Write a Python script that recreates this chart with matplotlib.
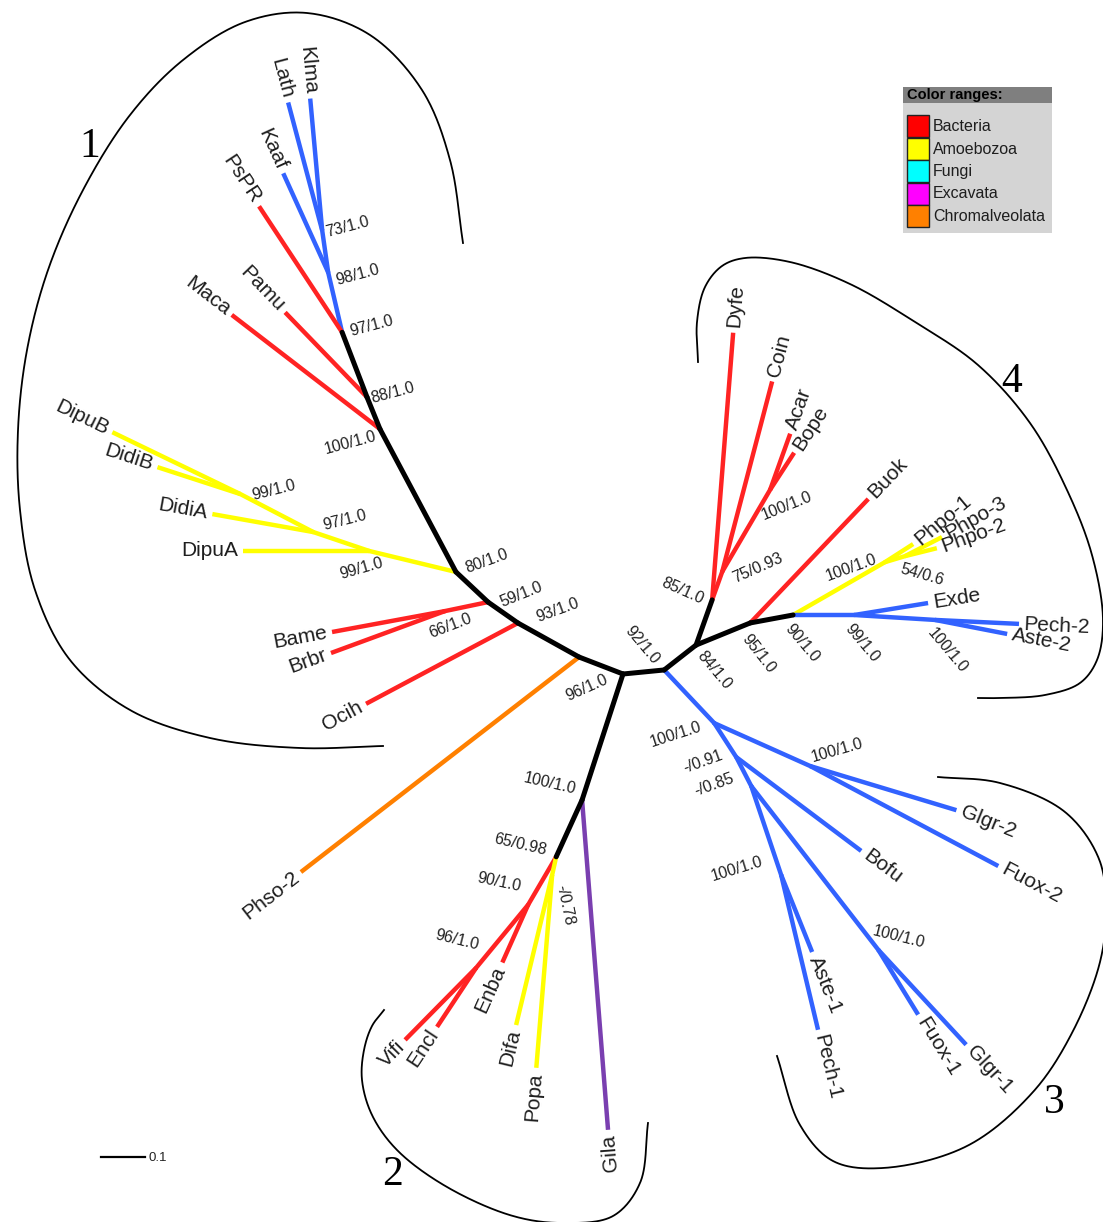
import numpy as np
import matplotlib
matplotlib.use("Agg")
import matplotlib.pyplot as plt
from matplotlib.patches import Rectangle

plt.rcParams['font.family'] = ['Liberation Sans', 'DejaVu Sans']

# ---------------------------------------------------------------- data
# unrooted tree: each edge parent -> child with its branch length (subst./site)
edge_parent = ['A', 'A', 'NO', 'N93', 'N59', 'N80', 'N100', 'N88', 'N97', 'N98',
               'N73', 'N73', 'N98', 'N97', 'N88', 'N100', 'N80', 'Y1', 'Y1', 'Y2',
               'Y2', 'Y3', 'Y3', 'N59', 'N66', 'N66', 'N93', 'NO', 'A', 'G100',
               'G100', 'N65', 'R90', 'R90', 'R96', 'R96', 'N65', 'Y78', 'Y78', 'B',
               'N84', 'N85', 'N85', 'N75', 'N75', 'NAB', 'NAB', 'N84', 'N95', 'N95',
               'N90', 'YP1', 'YP1', 'YP2', 'YP2', 'N90', 'N99', 'N99', 'N100b', 'N100b',
               'B', 'C3', 'P2', 'P2', 'C3', 'N91', 'N91', 'N85b', 'AP', 'AP',
               'N85b', 'FG', 'FG']
edge_child = ['B', 'NO', 'N93', 'N59', 'N80', 'N100', 'N88', 'N97', 'N98', 'N73',
              'Lath', 'Klma', 'Kaaf', 'PsPR', 'Pamu', 'Maca', 'Y1', 'DipuA', 'Y2', 'DidiA',
              'Y3', 'DidiB', 'DipuB', 'N66', 'Bame', 'Brbr', 'Ocih', 'Phso-2', 'G100', 'Gila',
              'N65', 'R90', 'Enba', 'R96', 'Vifi', 'Encl', 'Y78', 'Difa', 'Popa', 'N84',
              'N85', 'Dyfe', 'N75', 'Coin', 'NAB', 'Acar', 'Bope', 'N95', 'Buok', 'N90',
              'YP1', 'Phpo-1', 'YP2', 'Phpo-3', 'Phpo-2', 'N99', 'Exde', 'N100b', 'Pech-2', 'Aste-2',
              'C3', 'P2', 'Glgr-2', 'Fuox-2', 'N91', 'Bofu', 'N85b', 'AP', 'Aste-1', 'Pech-1',
              'FG', 'Fuox-1', 'Glgr-1']
branch_length = [.094, .107, .159, .083, .100, .368, .078, .158, .140, .096,
                 .301, .301, .247, .343, .268, .425, .203, .286, .134, .233,
                 .187, .198, .323, .100, .261, .276, .391, .799, .301, .752,
                 .142, .126, .144, .186, .230, .161, .042, .351, .440, .092,
                 .109, .609, .068, .447, .216, .135, .100, .133, .389, .099,
                 .241, .076, .047, .095, .075, .139, .170, .184, .191, .167,
                 .166, .239, .347, .484, .092, .355, .074, .213, .189, .362,
                 .471, .173, .294]
branch_group = ['bb', 'bb', 'bb', 'bb', 'bb', 'bb', 'bb', 'bb', 'fun', 'fun',
                'fun', 'fun', 'fun', 'bac', 'bac', 'bac', 'amo', 'amo', 'amo', 'amo',
                'amo', 'amo', 'amo', 'bac', 'bac', 'bac', 'bac', 'chr', 'bb', 'exc',
                'bb', 'bac', 'bac', 'bac', 'bac', 'bac', 'amo', 'amo', 'amo', 'bb',
                'bb', 'bac', 'bac', 'bac', 'bac', 'bac', 'bac', 'bb', 'bac', 'bb',
                'amo', 'amo', 'amo', 'amo', 'amo', 'fun', 'fun', 'fun', 'fun', 'fun',
                'fun', 'fun', 'fun', 'fun', 'fun', 'fun', 'fun', 'fun', 'fun', 'fun',
                'fun', 'fun', 'fun']

# bootstrap / posterior support
support_node = ['N73', 'N98', 'N97', 'N88', 'N100', 'N80', 'N59', 'N93', 'N66', 'Y1',
                'Y2', 'Y3', 'A', 'A', 'N84', 'N85', 'N75', 'NAB', 'N95', 'N90',
                'N99', 'N100b', 'YP1', 'YP2', 'C3', 'P2', 'N91', 'N85b', 'AP', 'FG',
                'G100', 'N65', 'R90', 'R96', 'Y78']
support_text = ['73/1.0', '98/1.0', '97/1.0', '88/1.0', '100/1.0', '80/1.0', '59/1.0', '93/1.0', '66/1.0', '99/1.0',
                '97/1.0', '99/1.0', '92/1.0', '96/1.0', '84/1.0', '85/1.0', '75/0.93', '100/1.0', '95/1.0', '90/1.0',
                '99/1.0', '100/1.0', '100/1.0', '54/0.6', '100/1.0', '100/1.0', '-/0.91', '-/0.85', '100/1.0', '100/1.0',
                '100/1.0', '65/0.98', '90/1.0', '96/1.0', '-/0.78']

legend_labels = ['Bacteria', 'Amoebozoa', 'Fungi', 'Excavata', 'Chromalveolata']
legend_colors = ['#ff0000', '#ffff00', '#00ffff', '#ff00ff', '#ff8000']
clade_labels = ['1', '2', '3', '4']
scale_value = 0.1

# ---------------------------------------------------------------- layout / style
group_color = {'bb': '#000000', 'bac': '#ff2323', 'amo': '#ffff00', 'fun': '#3262ff',
               'chr': '#ff8000', 'exc': '#7a3fb0'}
branch_angle = [5.6, 158.9, 150.9, 145.0, 136.8, 118.0, 112.1, 111.0, 103.1, 98.1,
                104.9, 95.2, 114.4, 123.4, 134.0, 142.4, 166.4, 180.0, 161.3, 169.9,
                152.5, 162.0, 154.2, 191.8, 190.5, 200.2, 208.0, 217.7, 252.0, -85.5,
                245.5, 239.7, 245.9, 230.5, 225.4, 236.5, 257.5, 256.5, 265.3, 38.0,
                70.4, 85.5, 70.3, 75.3, 59.7, 70.3, 57.0, 22.2, 46.4, 10.5,
                29.9, 32.7, 16.7, 27.2, 14.0, 0.0, 9.2, -3.5, -2.7, -11.0,
                -46.7, -24.1, -16.8, -28.0, -57.1, -36.9, -62.6, -71.4, -68.1, -76.6,
                -52.2, -58.4, -47.2]
label_rot_override = {'Phpo-1': 40, 'Phpo-3': 30, 'Phpo-2': 20, 'Glgr-2': -22}
# support label offsets from node (pixels, y up) and rotation
sup_dx = [25, 29, 29, 26, -30, 31, 33, 40, 5, -8, 31, 33, 19, -36, 18, -30, 35, 17, 8, 9,
          8, 12, -34, 17, -39, 27, -33, -37, -44, 20, -32, -36, -29, -19, 13]
sup_dy = [4, -3, 6, 4, -14, 11, 8, 13, -15, -18, 12, 4, 29, -14, -25, 9, 4, -16, -31, -28,
          -28, -31, -6, -19, -11, 16, -5, 1, 6, 13, 16, 12, 22, 28, -30]
sup_rot = [15, 15, 15, 15, 15, 20, 22, 20, 21, 16, 14, 14, -50, 24, -50, -24, 24, 22, -52, -50,
           -50, -50, 20, -16, 18, 16, 20, 20, 17, -14, -13, -13, -12, -14, -78]

W, H = 1103, 1222
PXU = 440.0            # pixels per unit branch length
OX, OY = 623, 674      # pixel position of the central node


def P(x, y):
    return ((x - OX) / PXU, (OY - y) / PXU)


fig = plt.figure(figsize=(W / 100, H / 100), dpi=100)
ax = fig.add_axes([0, 0, 1, 1])
ax.set_xlim(-OX / PXU, (W - OX) / PXU)
ax.set_ylim((OY - H) / PXU, OY / PXU)
ax.set_aspect('equal')
ax.axis('off')

# positions from branch lengths and angles
pos = {'A': np.array([0.0, 0.0])}
ang = {}
for p, c, L, a in zip(edge_parent, edge_child, branch_length, branch_angle):
    r = np.deg2rad(a)
    pos[c] = pos[p] + L * np.array([np.cos(r), np.sin(r)])
    ang[c] = a
internal = set(edge_parent)

# draw branches (coloured first, black backbone on top)
for order in (0, 1):
    for p, c, g in zip(edge_parent, edge_child, branch_group):
        if (g == 'bb') != bool(order):
            continue
        x0, y0 = pos[p]
        x1, y1 = pos[c]
        leaf = c not in internal
        ax.plot([x0, x1], [y0, y1], color=group_color[g],
                lw=3.6 if g == 'bb' else 3.2,
                solid_capstyle='butt' if leaf else 'round',
                solid_joinstyle='round', zorder=3 if g == 'bb' else 2)

# leaf labels
gap = 5 / PXU
for c in edge_child:
    if c in internal:
        continue
    a = ang[c] % 360
    r = np.deg2rad(a)
    x, y = pos[c] + gap * np.array([np.cos(r), np.sin(r)])
    if 90 < a < 276:
        rot, ha = a - 180, 'right'
    else:
        rot, ha = (a if a <= 180 else a - 360), 'left'
    if c in label_rot_override:
        rot = label_rot_override[c]
    ax.text(x, y, c, rotation=rot, rotation_mode='anchor', ha=ha, va='center',
            fontsize=15, color='#1e1e1e', zorder=5)

# support labels
for n, t, dx, dy, rt in zip(support_node, support_text, sup_dx, sup_dy, sup_rot):
    x, y = pos[n] + np.array([dx, dy]) / PXU
    ax.text(x, y, t, rotation=rt, rotation_mode='anchor', ha='center', va='center',
            fontsize=11.5, color='#222222', zorder=5)


# clade brackets: centripetal Catmull-Rom through guide points
def smooth(pts, n=30, alpha=0.5):
    Q = np.array([P(*p) for p in pts], float)
    Q = np.vstack([2 * Q[0] - Q[1], Q, 2 * Q[-1] - Q[-2]])
    out = []
    for i in range(1, len(Q) - 2):
        p0, p1, p2, p3 = Q[i - 1], Q[i], Q[i + 1], Q[i + 2]
        t0 = 0.0
        t1 = t0 + np.linalg.norm(p1 - p0) ** alpha
        t2 = t1 + np.linalg.norm(p2 - p1) ** alpha
        t3 = t2 + np.linalg.norm(p3 - p2) ** alpha
        t = np.linspace(t1, t2, n, endpoint=False)[:, None]
        A1 = (t1 - t) / (t1 - t0) * p0 + (t - t0) / (t1 - t0) * p1
        A2 = (t2 - t) / (t2 - t1) * p1 + (t - t1) / (t2 - t1) * p2
        A3 = (t3 - t) / (t3 - t2) * p2 + (t - t2) / (t3 - t2) * p3
        B1 = (t2 - t) / (t2 - t0) * A1 + (t - t0) / (t2 - t0) * A2
        B2 = (t3 - t) / (t3 - t1) * A2 + (t - t1) / (t3 - t1) * A3
        out.append((t2 - t) / (t2 - t1) * B1 + (t - t1) / (t2 - t1) * B2)
    out.append(Q[-2][None, :])
    return np.vstack(out)


brackets = [
    [(463, 243), (450, 160), (422, 90), (370, 35), (307, 13), (245, 22), (183, 60), (130, 115),
     (83, 190), (48, 270), (27, 350), (18, 430), (20, 510), (35, 590), (70, 660), (130, 710),
     (210, 738), (300, 748), (383, 746)],
    [(384, 1010), (372, 1026), (364, 1050), (362, 1080), (372, 1115), (397, 1150), (447, 1187),
     (513, 1216), (563, 1223), (613, 1216), (640, 1183), (648, 1123)],
    [(938, 777), (1000, 783), (1065, 812), (1099, 859), (1106, 910), (1100, 962), (1073, 1031),
     (1033, 1092), (967, 1146), (883, 1168), (833, 1161), (800, 1125), (777, 1056)],
    [(698, 362), (697, 322), (705, 287), (722, 266), (745, 258), (790, 262), (850, 284),
     (915, 322), (978, 365), (1030, 423), (1067, 490), (1092, 555), (1103, 620), (1097, 660),
     (1080, 683), (1045, 695), (1000, 698), (978, 698)],
]
for b in brackets:
    s = smooth(b)
    ax.plot(s[:, 0], s[:, 1], color='black', lw=1.3, zorder=1)

clade_pos = [(90, 147), (392, 1175), (1054, 1103), (1012, 382)]
for lab, (cx, cy) in zip(clade_labels, clade_pos):
    ax.text(*P(cx, cy), lab, fontsize=30, family='Liberation Serif', ha='center',
            va='center', color='black')

# scale bar
sx, sy = P(101, 1157)
ax.plot([sx, sx + scale_value], [sy, sy], color='black', lw=1.6)
ax.text(sx + scale_value + 3 / PXU, sy - 1 / PXU, f'{scale_value}', fontsize=9.5,
        ha='left', va='center', color='#222222')

# legend box
lx0, ly0, lx1, ly1 = 903, 87, 1052, 233
lax = fig.add_axes([lx0 / W, 1 - ly1 / H, (lx1 - lx0) / W, (ly1 - ly0) / H])
lax.set_xlim(0, lx1 - lx0)
lax.set_ylim(ly1 - ly0, 0)
lax.axis('off')
lax.add_patch(Rectangle((0, 0), lx1 - lx0, ly1 - ly0, facecolor='#d4d4d4', edgecolor='none'))
lax.add_patch(Rectangle((0, 0), lx1 - lx0, 16, facecolor='#7f7f7f', edgecolor='none'))
lax.text(4, 8.5, 'Color ranges:', fontsize=10.5, fontweight='bold', ha='left',
         va='center', color='black')
for i, (lab, col) in enumerate(zip(legend_labels, legend_colors)):
    y0 = 28 + i * 22.5
    lax.add_patch(Rectangle((4, y0), 22, 22, facecolor=col, edgecolor='#222222', lw=1.0))
    lax.text(30, y0 + 11.5, lab, fontsize=11.5, ha='left', va='center', color='#1e1e1e')

fig.savefig('out.png', dpi=100)
